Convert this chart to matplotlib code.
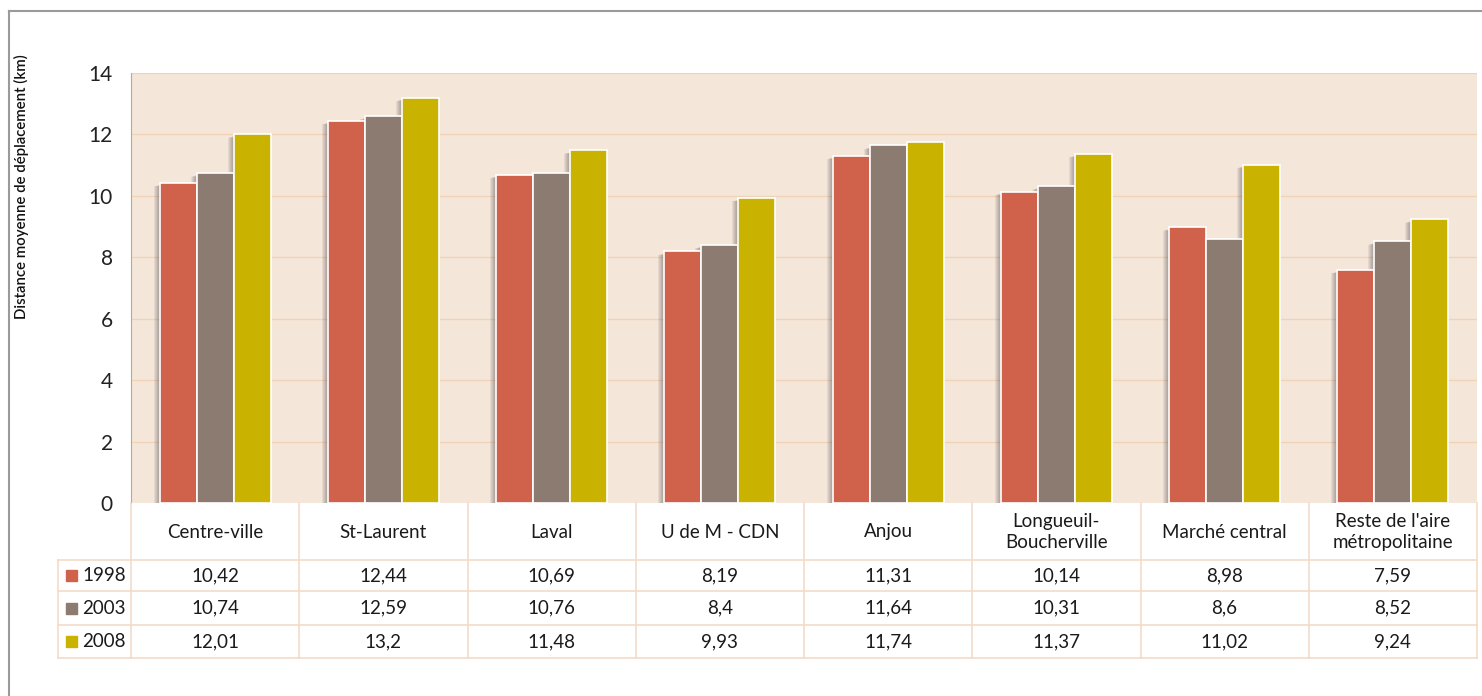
import numpy as np
import matplotlib.pyplot as plt
from matplotlib.patches import Rectangle

plt.rcParams['font.family'] = ['Lato', 'DejaVu Sans']

# Données
categories = ["Centre-ville", "St-Laurent", "Laval", "U de M - CDN", "Anjou",
              "Longueuil-\nBoucherville", "Marché central", "Reste de l'aire\nmétropolitaine"]
annees = ["1998", "2003", "2008"]
v1998 = [10.42, 12.44, 10.69, 8.19, 11.31, 10.14, 8.98, 7.59]
v2003 = [10.74, 12.59, 10.76, 8.4, 11.64, 10.31, 8.6, 8.52]
v2008 = [12.01, 13.2, 11.48, 9.93, 11.74, 11.37, 11.02, 9.24]
series = [v1998, v2003, v2008]
couleurs = ['#D0614A', '#8C7B70', '#C9B200']
yticks = [0, 2, 4, 6, 8, 10, 12, 14]

W, H = 1482, 696
fig = plt.figure(figsize=(W / 100, H / 100), dpi=100)
fond = '#F5E6DA'
ligne = '#F2D2B6'

# Cadre extérieur (haut et gauche)
fig.add_artist(plt.Line2D([8.5 / W, 8.5 / W], [0, 1 - 10.5 / H], color='#9A9A9A', lw=1.5))
fig.add_artist(plt.Line2D([8.5 / W, 1], [1 - 10.5 / H, 1 - 10.5 / H], color='#9A9A9A', lw=1.5))

# Graphique
x0, x1, ytop, ybot = 131, 1477, 73, 503
ax = fig.add_axes([x0 / W, 1 - ybot / H, (x1 - x0) / W, (ybot - ytop) / H])
ax.set_facecolor(fond)
ax.set_xlim(0, len(categories))
ax.set_ylim(0, 14)
ax.set_yticks(yticks)
ax.set_yticklabels([str(t) for t in yticks], fontsize=15, color='#222222')
ax.tick_params(axis='y', length=0, pad=13)
ax.set_xticks([])
for t in yticks[1:]:
    ax.axhline(t, color=ligne, lw=1, zorder=1)
for s in ['top', 'right', 'bottom']:
    ax.spines[s].set_visible(False)
ax.spines['left'].set_color('#B8A898')

x = np.arange(len(categories)) + 0.5
bw = 0.22
for k, (vals, c) in enumerate(zip(series, couleurs)):
    xs = x + (k - 1) * bw
    # ombre portée
    for j in range(6):
        d = 0.006 * (j + 1)
        for xi, v in zip(xs, vals):
            ax.add_patch(Rectangle((xi - bw / 2 - d, 0), bw, v - 0.06 - 0.01 * j,
                                   color='#4a4a4a', alpha=0.09, lw=0, zorder=2))
for k, (vals, c) in enumerate(zip(series, couleurs)):
    xs = x + (k - 1) * bw
    ax.bar(xs, vals, width=bw, color=c, edgecolor='white', linewidth=1.2, zorder=3)

fig.text(21 / W, 1 - 187 / H, "Distance moyenne de déplacement (km)", rotation=90,
         ha='center', va='center', fontsize=10.8, fontweight='semibold', color='#111111')

# Tableau de données
tx0 = 58
cw = (x1 - x0) / len(categories)
lw_col = (x0 - tx0) / cw
axt = fig.add_axes([tx0 / W, 1 - 658 / H, (x1 - tx0) / W, (658 - ybot) / H])
axt.set_xlim(-lw_col, len(categories))
axt.set_ylim(155, 0)
axt.axis('off')
rows = [0, 57, 88, 122, 155]
lc = '#F2DCC8'
for i in range(len(categories) + 1):
    axt.plot([i, i], [0, 155], color=lc, lw=1.2, clip_on=False)
axt.plot([-lw_col, -lw_col], [57, 155], color=lc, lw=1.2, clip_on=False)
for r in rows[1:]:
    axt.plot([-lw_col, len(categories)], [r, r], color=lc, lw=1.2, clip_on=False)

fs = 13.5
for i, cat in enumerate(categories):
    axt.text(i + 0.5, 29, cat, ha='center', va='center', fontsize=fs,
             color='#1a1a1a', linespacing=1.3)
for k, (vals, c, an) in enumerate(zip(series, couleurs, annees)):
    yc = (rows[k + 1] + rows[k + 2]) / 2
    axt.add_patch(Rectangle((-lw_col + 8 / cw, yc - 5.5), 11 / cw, 11, color=c, clip_on=False))
    axt.text(-lw_col + 24 / cw, yc, an, ha='left', va='center', fontsize=fs, color='#1a1a1a')
    for i, v in enumerate(vals):
        axt.text(i + 0.5, yc, str(v).replace('.', ','), ha='center', va='center',
                 fontsize=fs, color='#1a1a1a')

fig.savefig('out.png', dpi=100, facecolor='white')
